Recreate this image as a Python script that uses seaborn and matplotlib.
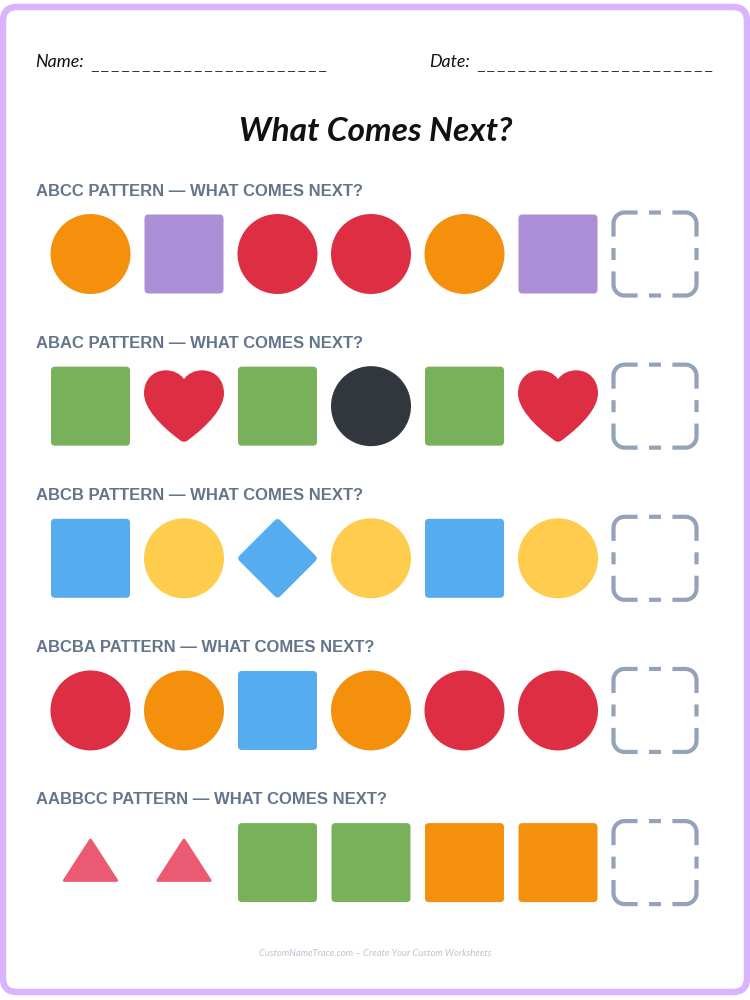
import pandas as pd
import numpy as np
import seaborn as sns
import matplotlib.pyplot as plt
from matplotlib.path import Path
from matplotlib.patches import FancyBboxPatch

# worksheet content
row_labels = ["ABCC PATTERN — WHAT COMES NEXT?", "ABAC PATTERN — WHAT COMES NEXT?",
              "ABCB PATTERN — WHAT COMES NEXT?", "ABCBA PATTERN — WHAT COMES NEXT?",
              "AABBCC PATTERN — WHAT COMES NEXT?"]
row_shapes = [["circle", "square", "circle", "circle", "circle", "square"],
              ["square", "heart", "square", "circle", "square", "heart"],
              ["square", "circle", "diamond", "circle", "square", "circle"],
              ["circle", "circle", "square", "circle", "circle", "circle"],
              ["triangle", "triangle", "square", "square", "square", "square"]]
row_colors = [["orange", "purple", "red", "red", "orange", "purple"],
              ["green", "red", "green", "black", "green", "red"],
              ["blue", "yellow", "blue", "yellow", "blue", "yellow"],
              ["red", "orange", "blue", "orange", "red", "red"],
              ["pink", "pink", "green", "green", "orange", "orange"]]
name_label = "Name:"
date_label = "Date:"
title_text = "What Comes Next?"
footer_text = "CustomNameTrace.com – Create Your Custom Worksheets"

palette = {"orange": "#F4900C", "purple": "#AA8ED6", "red": "#DD2E44", "green": "#78B159",
           "black": "#31373D", "blue": "#55ACEE", "yellow": "#FFCC4D", "pink": "#EA5B73"}


def rounded(corners, r):
    # closed polygon with the corners rounded off
    corners = np.array(corners, dtype=float)
    n = len(corners)
    verts, codes = [], []
    for i in range(n):
        p, prev, nxt = corners[i], corners[i - 1], corners[(i + 1) % n]
        a = p + (prev - p) / np.linalg.norm(prev - p) * r
        b = p + (nxt - p) / np.linalg.norm(nxt - p) * r
        verts += [a, p, b]
        codes += [Path.MOVETO if i == 0 else Path.LINETO, Path.CURVE3, Path.CURVE3]
    verts.append(verts[0])
    codes.append(Path.CLOSEPOLY)
    return Path(verts, codes)


def heart():
    right = [(0, .675), (.1, .82), (.27, .895), (.46, .895), (.78, .895), (1, .65), (1, .32),
             (1, -.05), (.6, -.48), (.1, -.85), (.06, -.88), (.03, -.89), (0, -.89)]
    left = [(-x, y) for x, y in right[-2::-1]]
    verts = right + left + [(0, .675)]
    codes = [Path.MOVETO] + [Path.CURVE4] * (len(verts) - 2) + [Path.CLOSEPOLY]
    return Path(verts, codes)


def answer_box():
    # dashed outline of the empty answer tile
    r, e, m = .265, .42, .145
    k = .55 * r
    verts, codes = [], []
    for sx, sy in [(1, 1), (-1, 1), (-1, -1), (1, -1)]:
        verts += [(sx * e, sy), (sx * (1 - r), sy), (sx * (1 - r + k), sy), (sx, sy * (1 - r + k)),
                  (sx, sy * (1 - r)), (sx, sy * e)]
        codes += [Path.MOVETO, Path.LINETO, Path.CURVE4, Path.CURVE4, Path.CURVE4, Path.LINETO]
    for a, b in [((-m, 1), (m, 1)), ((-m, -1), (m, -1)), ((-1, -m), (-1, m)), ((1, -m), (1, m))]:
        verts += [a, b]
        codes += [Path.MOVETO, Path.LINETO]
    return Path(verts, codes)


markers = {"circle": "o",
           "square": rounded([(1, 1), (-1, 1), (-1, -1), (1, -1)], .1),
           "diamond": rounded([(1, 0), (0, 1), (-1, 0), (0, -1)], .1),
           "heart": heart(),
           "triangle": rounded([(1, -.67), (0, .88), (-1, -.67)], .1)}

PT = 0.72  # points per pixel at dpi 100
sizes = {"circle": (80 * PT) ** 2, "square": (79 * PT) ** 2, "diamond": (81.5 * PT) ** 2,
         "heart": (80 * PT) ** 2, "triangle": (57.5 * PT) ** 2}

first_x, step_x = 90.5, 93.5
first_y, step_y = 254, 152.15

rows = []
for i, (shapes, colors) in enumerate(zip(row_shapes, row_colors)):
    for j, (s, c) in enumerate(zip(shapes, colors)):
        rows.append({"x": first_x + j * step_x, "y": first_y + i * step_y, "shape": s, "color": c})
df = pd.DataFrame(rows)

sns.set_theme(style="white")
fig = plt.figure(figsize=(7.5, 10), dpi=100)
ax = fig.add_axes([0, 0, 1, 1])
ax.set_xlim(0, 750)
ax.set_ylim(1000, 0)
ax.axis("off")

ax.add_patch(FancyBboxPatch((17, 21), 716, 957, boxstyle="round,pad=14,rounding_size=14",
                            fc="white", ec="#D8B4FE", lw=6.5 * PT))

sns.scatterplot(data=df, x="x", y="y", hue="color", palette=palette, style="shape", markers=markers,
                size="shape", sizes=sizes, linewidth=0, legend=False, ax=ax, clip_on=False)
ax.set_xlabel("")
ax.set_ylabel("")

box_x = [655] * len(row_labels)
box_y = [first_y + i * step_y for i in range(len(row_labels))]
ax.scatter(box_x, box_y, marker=answer_box(), s=(83 * PT) ** 2, facecolors="none",
           edgecolors="#94A3B8", linewidths=4.2 * PT, capstyle="butt")

for i, label in enumerate(row_labels):
    ax.text(36, 192 + i * 152, label, color="#64748B", fontsize=16.6 * PT, fontweight="bold",
            family="Liberation Sans", ha="left", va="center")

ax.text(35.5, 67, name_label, fontsize=17.8 * PT, family="Lato", style="italic",
        color="#111111", va="baseline")
ax.text(429.5, 67, date_label, fontsize=17.8 * PT, family="Lato", style="italic",
        color="#111111", va="baseline")
blank = " ".join(["_"] * 23)
ax.text(91, 68, blank, fontsize=12.45 * PT, family="Liberation Sans", color="#111111", va="baseline")
ax.text(477, 68, blank, fontsize=12.45 * PT, family="Liberation Sans", color="#111111", va="baseline")

ax.text(376, 141, title_text, fontsize=33.5 * PT, family="Lato", style="italic", fontweight="bold",
        color="#111111", ha="center", va="baseline")
ax.text(375, 956, footer_text, fontsize=9.4 * PT, family="Lato", style="italic", color="#BCC2CE",
        ha="center", va="baseline")

fig.savefig("out.png", dpi=100)
